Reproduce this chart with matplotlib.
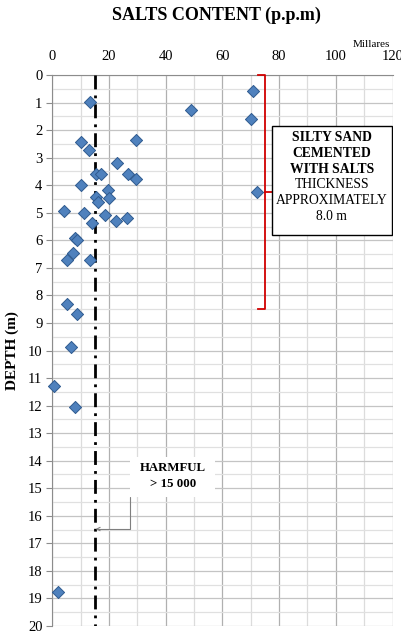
import numpy as np
import matplotlib
matplotlib.use('Agg')
import matplotlib.pyplot as plt
from matplotlib.ticker import MultipleLocator
from matplotlib.patches import Rectangle

plt.rcParams['font.family'] = ['Liberation Serif', 'DejaVu Serif']

# salts content (thousands of p.p.m) vs depth (m)
salts = [13.5, 10.3, 29.4, 13.0, 22.8, 15.3, 17.3, 26.6, 29.4, 10.1,
         19.6, 15.5, 20.2, 16.1, 4.2, 11.2, 18.6, 22.6, 26.5, 14.0,
         8.1, 8.6, 7.5, 5.4, 13.2, 5.2, 8.7, 6.8, 0.5, 8.1, 2.0,
         70.9, 48.9, 70.1, 72.2]
depth = [0.97, 2.43, 2.37, 2.73, 3.19, 3.58, 3.58, 3.61, 3.79, 3.98,
         4.17, 4.44, 4.48, 4.61, 4.95, 5.00, 5.07, 5.30, 5.19, 5.38,
         5.93, 6.00, 6.45, 6.72, 6.72, 8.30, 8.69, 9.86, 11.28, 12.04, 18.75,
         0.58, 1.28, 1.58, 4.23]

harmful_limit = 15      # thousands
layer_top, layer_bottom, layer_mid = 0.0, 8.5, 4.23
note_bold = ['SILTY SAND', 'CEMENTED', 'WITH SALTS']
note_plain = ['THICKNESS', 'APPROXIMATELY', '8.0 m']

fig = plt.figure(figsize=(4.01, 6.32), dpi=100)
ax = fig.add_axes([0.13, 0.0095, 0.849, 0.8718])

ax.set_xlim(0, 120)
ax.set_ylim(20, 0)
ax.xaxis.set_major_locator(MultipleLocator(20))
ax.xaxis.set_minor_locator(MultipleLocator(10))
ax.yaxis.set_major_locator(MultipleLocator(1))
ax.yaxis.set_minor_locator(MultipleLocator(0.5))
ax.xaxis.tick_top()
ax.xaxis.grid(which='major', color='#b0b0b0', lw=0.9)
ax.xaxis.grid(which='minor', color='#dcdcdc', lw=0.9)
ax.yaxis.grid(which='major', color='#c4c4c4', lw=0.9)
ax.yaxis.grid(which='minor', color='#e0e0e0', lw=0.9)
ax.set_axisbelow(True)
for side in ['top', 'left']:
    ax.spines[side].set_color('#8c8c8c')
for side in ['right', 'bottom']:
    ax.spines[side].set_visible(False)
ax.tick_params(which='major', length=4, color='#8c8c8c', labelsize=10.5, pad=3)
ax.tick_params(which='minor', length=0)
ax.tick_params(axis='x', top=False, pad=5)

# harmful limit line
ax.plot([harmful_limit, harmful_limit], [0, 20], color='black', lw=2,
        dashes=[5, 2.2, 1, 2.2], zorder=3)

ax.scatter(salts, depth, marker='D', s=38, color='#4f81bd',
           edgecolor='#2f5a8f', lw=0.7, zorder=4, clip_on=False)

# bracket for cemented layer
ax.plot([72.4, 75, 75, 72.4], [layer_top, layer_top, layer_bottom, layer_bottom],
        color='#d00000', lw=1.3, zorder=3, clip_on=False)
ax.plot([75, 77.4], [layer_mid, layer_mid], color='#d00000', lw=1.3, zorder=3)

ax.add_patch(Rectangle((77.4, 1.85), 42.4, 3.96, fc='white', ec='black',
                       lw=1, zorder=5))
for i, line in enumerate(note_bold + note_plain):
    ax.text(98.6, 2.26 + 0.576 * i, line, ha='center', va='center',
            fontsize=9.8, fontweight='bold' if line in note_bold else 'normal',
            zorder=6)

# harmful note with elbow arrow
ax.annotate('', xy=(harmful_limit + 0.3, 16.48), xytext=(27.3, 15.3),
            arrowprops=dict(arrowstyle='->', color='#7f7f7f', lw=0.8,
                            connectionstyle='angle,angleA=90,angleB=0,rad=0',
                            shrinkA=0, shrinkB=0, mutation_scale=6),
            zorder=5)
ax.add_patch(Rectangle((27.5, 13.85), 30, 1.45, fc='white', ec='none', zorder=5))
ax.text(42.5, 14.55, 'HARMFUL\n> 15 000', ha='center', va='center',
        fontsize=9.3, fontweight='bold', linespacing=1.4, zorder=6)

ax.set_ylabel('DEPTH (m)', fontsize=11, fontweight='bold', labelpad=6)
fig.text(0.54, 0.975, 'SALTS CONTENT (p.p.m)', ha='center', va='center',
         fontsize=13, fontweight='bold')
fig.text(0.925, 0.93, 'Millares', ha='center', va='center', fontsize=8)

fig.savefig('out.png', dpi=100)
